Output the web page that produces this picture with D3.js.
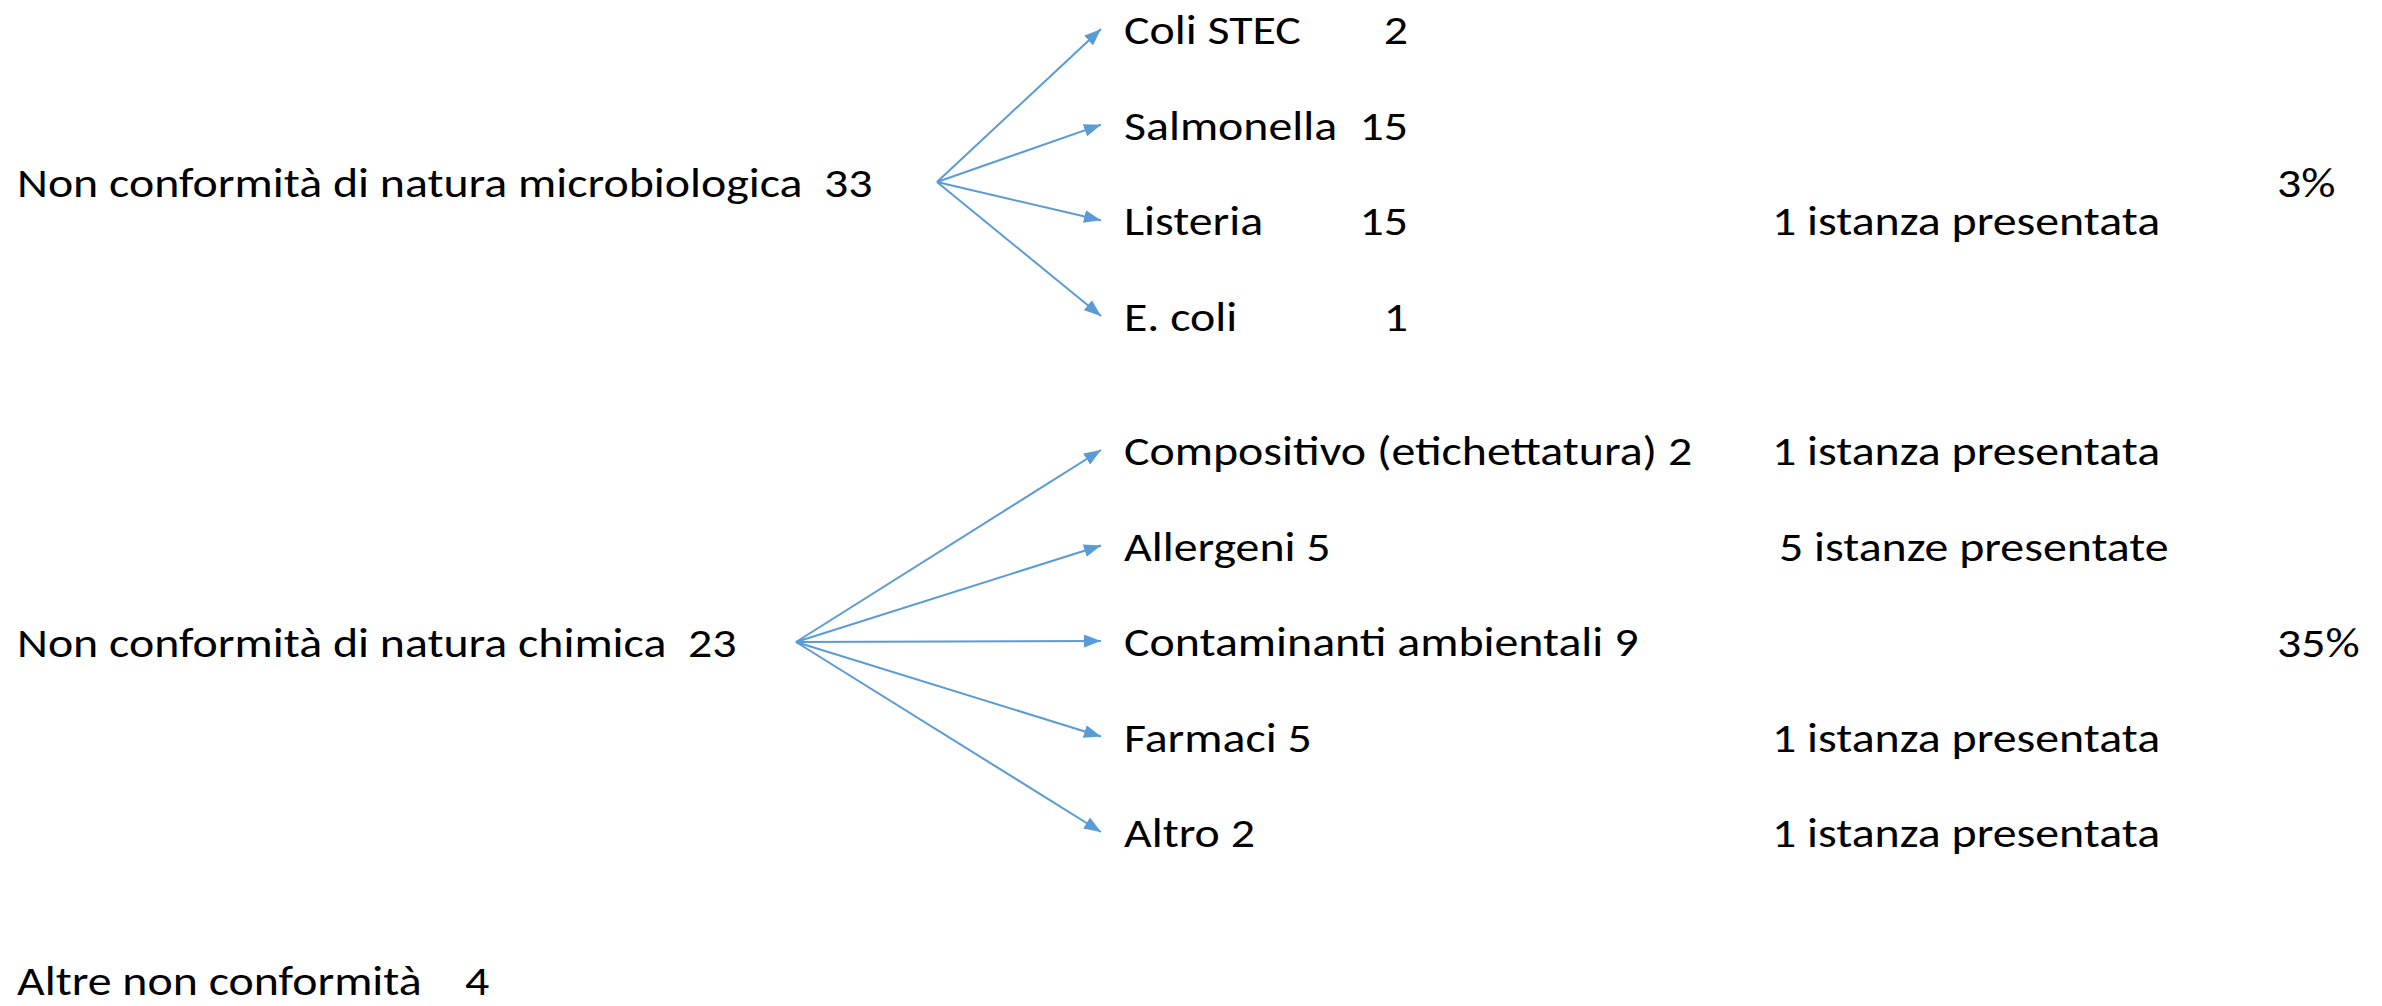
<!DOCTYPE html>
<html>
<head>
<meta charset="utf-8">
<script src="https://cdn.jsdelivr.net/npm/d3@7"></script>
<style>
  html, body { margin: 0; padding: 0; background: #fff; }
  svg text { font-family: Carlito, Calibri, Lato, sans-serif; fill: #000; white-space: pre; }
</style>
</head>
<body>
<div id="chart"></div>
<script>
// Non-conformity breakdown: two parent categories fan out into sub-causes.

const groupLabels = ["Non conformità di natura microbiologica", "Non conformità di natura chimica", "Altre non conformità"];
const groupCounts = [33, 23, 4];
const groupShares = ["3%", "35%", ""];

const microItems = ["Coli STEC", "Salmonella", "Listeria", "E. coli"];
const microCounts = [2, 15, 15, 1];
const microNotes = ["", "", "1 istanza presentata", ""];

const chemItems = ["Compositivo (etichettatura)", "Allergeni", "Contaminanti ambientali", "Farmaci", "Altro"];
const chemCounts = [2, 5, 9, 5, 2];
const chemNotes = ["1 istanza presentata", "5 istanze presentate", "", "1 istanza presentata", "1 istanza presentata"];

const W = 2382, H = 1006;
const BLUE = "#5B9BD5";
const FONT = 41;

const svg = d3.select("#chart").append("svg")
  .attr("width", W).attr("height", H)
  .attr("viewBox", `0 0 ${W} ${H}`);

svg.append("defs").append("marker")
  .attr("id", "head")
  .attr("markerUnits", "userSpaceOnUse")
  .attr("viewBox", "0 0 17 13")
  .attr("refX", 17).attr("refY", 6.5)
  .attr("markerWidth", 17).attr("markerHeight", 13)
  .attr("orient", "auto")
  .append("path").attr("d", "M0,0L17,6.5L0,13Z").attr("fill", BLUE);

// horizontal columns
const x = d3.scaleOrdinal()
  .domain(["label", "origin", "tip", "item", "count", "note", "share"])
  .range([17, 0, 1101, 1124, 1408, 1772, 2277]);

// rows: arrow tips per group; text baseline sits a bit lower
const yMicro = d3.scalePoint().domain(microItems).range([29, 316]);
const yChem = d3.scalePoint().domain(chemItems).range([450, 832]);
const yGroup = d3.scaleOrdinal().domain(groupLabels).range([182, 642, 980]);
const originX = d3.scaleOrdinal().domain(groupLabels).range([937, 796, 0]);
const BASE = 15;

// Lato runs wider than Calibri: squeeze horizontally to the reference width
let kx = 1;
function txt(g, s, px, py, anchor) {
  return g.append("text")
    .attr("transform", `translate(${px},${py}) scale(${kx},1)`)
    .attr("text-anchor", anchor || "start")
    .attr("font-size", FONT)
    .text(s);
}
const probe = svg.append("text").attr("font-size", FONT)
  .style("white-space", "pre").text(groupLabels[0] + "  " + groupCounts[0]);
kx = 856 / probe.node().getComputedTextLength();
probe.remove();

const gText = svg.append("g");
const gArrows = svg.append("g").attr("stroke", BLUE).attr("stroke-width", 2).attr("fill", "none");

function fan(items, yScale, group) {
  const ox = originX(group), oy = yGroup(group);
  gArrows.selectAll(null).data(items).join("line")
    .attr("x1", ox).attr("y1", oy)
    .attr("x2", x("tip")).attr("y2", d => yScale(d))
    .attr("marker-end", "url(#head)");
}

// parent labels
groupLabels.forEach((g, i) => {
  const gap = i === 2 ? "    " : "  ";
  txt(gText, g + gap + groupCounts[i], x("label"), yGroup(g) + BASE);
  if (groupShares[i]) txt(gText, groupShares[i], x("share"), yGroup(g) + BASE);
});

// microbiological branch: counts in their own column
fan(microItems, yMicro, groupLabels[0]);
microItems.forEach((d, i) => {
  txt(gText, d, x("item"), yMicro(d) + BASE);
  txt(gText, String(microCounts[i]), x("count"), yMicro(d) + BASE, "end");
  if (microNotes[i]) txt(gText, microNotes[i], x("note"), yMicro(d) + BASE);
});

// chemical branch: count follows the name
fan(chemItems, yChem, groupLabels[1]);
chemItems.forEach((d, i) => {
  txt(gText, d + " " + chemCounts[i], x("item"), yChem(d) + BASE);
  if (chemNotes[i]) txt(gText, chemNotes[i], x("note") + (i === 1 ? 7 : 0), yChem(d) + BASE);
});
</script>
</body>
</html>
